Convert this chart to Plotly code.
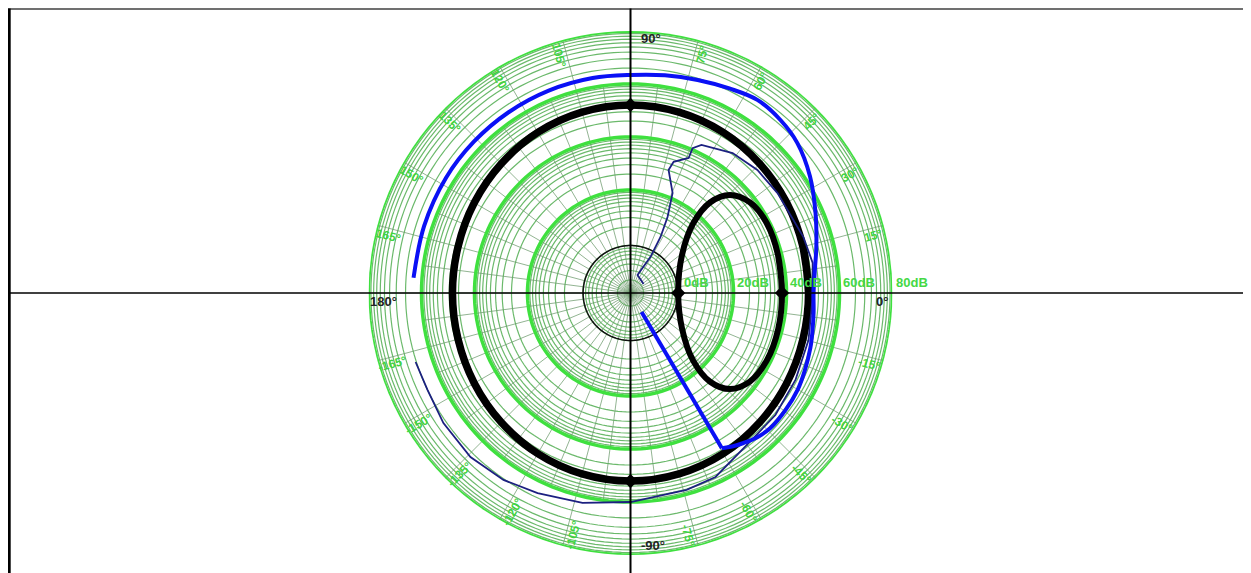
import numpy as np
import plotly.graph_objects as go

# ---------------- chart data (phase in degrees, magnitude in dB) ----------------
R_MIN, R_MAX = -18.9, 80.0          # radial dB range of the log-polar chart

# thick black loop (closed, first points repeated to close the spline smoothly)
big_theta = [0, 15, 30, 45, 60, 75, 90, 105, 120, 135, 150, 165, 180,
             195, 210, 225, 240, 255, 270, 285, 300, 315, 330, 345, 360, 375]
big_db = [48.3, 48.5, 49.2, 50.1, 51.1, 51.8, 52.1, 51.8, 51.1, 50.1, 49.2, 48.5, 48.3,
          48.5, 49.2, 50.1, 51.1, 51.8, 52.1, 51.8, 51.1, 50.1, 49.2, 48.5, 48.3, 48.5]

# black oval loop to the right of the centre
ell_theta = [0.4, 14.5, 27.1, 37.2, 44.6, 48.7, 48.0, 36.5, 1.2, -35.0, -47.2, -48.1,
             -44.0, -36.6, -26.4, -13.8, 0.4, 14.5]
ell_db = [38.3, 38.6, 38.9, 37.7, 33.8, 26.6, 16.5, 5.3, -0.9, 4.9, 15.9, 26.1,
          33.3, 37.2, 38.5, 38.5, 38.3, 38.6]

# thick blue curve
blue_theta = [176, 162, 148, 136, 124, 112, 100, 90, 81, 72.5, 64, 56.7, 49, 42, 33, 23.4,
              14, 7, 0, -6, -12, -17, -24, -30, -37, -44, -49, -53, -56.5, -59.5]
blue_db = [63.2, 63.0, 63.2, 63.3, 63.4, 63.5, 63.5, 63.4, 64.3, 65.4, 66.9, 68.3, 67.5,
           65.8, 61.9, 57.2, 53.4, 51.2, 50.2, 50.6, 51.3, 52.1, 53.1, 54.0, 54.4, 54.5,
           53.5, 52.0, 50.6, 49.1]
blue_tail_theta = [-59.5, -59.8]
blue_tail_db = [49.1, -10.6]

# thin navy measured curve
navy_theta = [34.7, 68.7, 61, 61.8, 64, 67.2, 72.8, 71.8, 66.7, 66.8, 64.4, 53.9, 44.1,
              34.2, 17.9, 9.4, -2.2, -14.8, -27.8, -40.1, -51.8, -65.2, -74.1, -90,
              -102.9, -114.9, -124.2, -134.3, -145.2, -154.5, -162.2]
navy_db = [-12.9, -11.6, -3.3, 5.1, 13.0, 22.1, 29.7, 33.2, 36.6, 40.6, 43.1, 46.5, 47.8,
           48.2, 49.7, 50.8, 49.8, 50.6, 51.5, 52.6, 53.2, 57.6, 58.4, 60.0,
           62.4, 64.4, 66.4, 67.6, 67.1, 66.0, 66.3]

# crossing markers
mark_theta = [0, 0, 90, -90]
mark_db = [-0.9, 38.3, 52.1, 52.1]

# reference (0 dB) circle drawn thin black
UNIT_DB = -1.0

# grid definition
decade_starts = [-20, 0, 20, 40, 60]
major_rings = [20, 40, 60, 80]
db_label_vals = [0, 20, 40, 60, 80]
db_labels = ["0dB", "20dB", "40dB", "60dB", "80dB"]
angle_ticks = [15, 30, 45, 60, 75, 105, 120, 135, 150, 165,
               -15, -30, -45, -60, -75, -105, -120, -135, -150, -165]
axis_label_text = ["90°", "-90°", "0°", "180°"]
axis_label_theta = [90, -90, 0, 180]
axis_label_db = [77.0, 76.6, 76.0, 74.2]

# ---------------- geometry of the page (page body has an 8px margin) ----------------
OFF = 8
W, H = 1251 - OFF, 573 - OFF
CX, CY, RPX = 630.5 - OFF, 293.0 - OFF, 262.0
dom_x = [(CX - RPX) / W, (CX + RPX) / W]
dom_y = [(H - CY - RPX) / H, (H - CY + RPX) / H]


def to_xy(theta, db):
    rn = (db - R_MIN) / (R_MAX - R_MIN)
    t = np.deg2rad(theta)
    return rn * np.cos(t), rn * np.sin(t)


fig = go.Figure()
# dummy cartesian trace so that overlay axes exist for the rotated labels
fig.add_trace(go.Scatter(x=[], y=[], showlegend=False, hoverinfo="skip"))

circ = np.arange(0, 361, 2.0)

# thin log rings
th, rr = [], []
for d0 in decade_starts:
    for m in range(2, 10):
        v = d0 + 20 * np.log10(m)
        if v <= R_MIN:
            continue
        th += list(circ) + [None]
        rr += [v] * len(circ) + [None]
fig.add_trace(go.Scatterpolar(theta=th, r=rr, mode="lines",
                              line=dict(color="rgba(65,165,65,0.78)", width=1.2),
                              hoverinfo="skip", showlegend=False))

# spokes
th, rr = [], []
for a in np.arange(0, 360, 15):
    th += [a, a, None]
    rr += [R_MIN, R_MAX, None]
for a in np.arange(7.5, 360, 15):
    th += [a, a, None]
    rr += [R_MIN, 60, None]
fig.add_trace(go.Scatterpolar(theta=th, r=rr, mode="lines",
                              line=dict(color="rgba(110,155,110,0.75)", width=1),
                              hoverinfo="skip", showlegend=False))

# thick decade rings
th, rr = [], []
for v in major_rings:
    th += list(circ) + [None]
    rr += [v] * len(circ) + [None]
fig.add_trace(go.Scatterpolar(theta=th, r=rr, mode="lines",
                              line=dict(color="#3fe03f", width=3.5),
                              hoverinfo="skip", showlegend=False))

# 0 dB reference circle
fig.add_trace(go.Scatterpolar(theta=list(circ), r=[UNIT_DB] * len(circ), mode="lines",
                              line=dict(color="#111111", width=1.5),
                              hoverinfo="skip", showlegend=False))

# data curves
fig.add_trace(go.Scatterpolar(theta=big_theta, r=big_db, mode="lines",
                              line=dict(color="#000000", width=7.5, shape="spline"),
                              showlegend=False))
fig.add_trace(go.Scatterpolar(theta=ell_theta, r=ell_db, mode="lines",
                              line=dict(color="#000000", width=6, shape="spline"),
                              showlegend=False))
fig.add_trace(go.Scatterpolar(theta=navy_theta, r=navy_db, mode="lines",
                              line=dict(color="#1c2080", width=1.8),
                              showlegend=False))
fig.add_trace(go.Scatterpolar(theta=blue_theta, r=blue_db, mode="lines",
                              line=dict(color="#0a10f5", width=4, shape="spline"),
                              showlegend=False))
fig.add_trace(go.Scatterpolar(theta=blue_tail_theta, r=blue_tail_db, mode="lines",
                              line=dict(color="#0a10f5", width=4),
                              showlegend=False))
fig.add_trace(go.Scatterpolar(theta=mark_theta, r=mark_db, mode="markers",
                              marker=dict(symbol="diamond", size=11, color="#000000"),
                              showlegend=False))

annotations = []
# dB labels along 0 deg
for v, t in zip(db_label_vals, db_labels):
    x, y = to_xy(0, v)
    annotations.append(dict(x=x, y=y, xref="x", yref="y", text="<b>%s</b>" % t,
                            showarrow=False, xanchor="left", yanchor="bottom",
                            xshift=1, yshift=1,
                            font=dict(family="Liberation Sans, Arial", size=13,
                                      color="#45d845")))
# rotated angle labels
LAB_DB = 75.0
for a in angle_ticks:
    if abs(a) < 90:
        pos = a - 1.7
        ang = -a
    else:
        pos = a + 1.7
        ang = 180 - a
        if ang > 180:
            ang -= 360
    x, y = to_xy(pos, LAB_DB)
    annotations.append(dict(x=x, y=y, xref="x", yref="y", text="<b>%d°</b>" % a,
                            showarrow=False, textangle=ang,
                            font=dict(family="Liberation Sans, Arial", size=12,
                                      color="#40d440")))
# black axis labels
for t, a, v in zip(axis_label_text, axis_label_theta, axis_label_db):
    x, y = to_xy(a, v)
    if a in (90, -90):
        annotations.append(dict(x=x, y=y, xref="x", yref="y", text="<b>%s</b>" % t,
                                showarrow=False, xanchor="left", xshift=8,
                                font=dict(family="Liberation Sans, Arial", size=13,
                                          color="#222222")))
    else:
        annotations.append(dict(x=x, y=y, xref="x", yref="y", text="<b>%s</b>" % t,
                                showarrow=False, yshift=-8,
                                font=dict(family="Liberation Sans, Arial", size=13,
                                          color="#222222")))

cx_p = CX / W
cy_p = (H - CY) / H
shapes = [
    dict(type="line", xref="paper", yref="paper", x0=0, x1=1, y0=(H - 1) / H,
         y1=(H - 1) / H, line=dict(color="#707070", width=2)),
    dict(type="line", xref="paper", yref="paper", x0=1.2 / W, x1=1.2 / W, y0=0,
         y1=(H - 0.5) / H, line=dict(color="#000000", width=3)),
    dict(type="line", xref="paper", yref="paper", x0=0, x1=1, y0=cy_p, y1=cy_p,
         line=dict(color="#000000", width=1.5)),
    dict(type="line", xref="paper", yref="paper", x0=cx_p, x1=cx_p, y0=0,
         y1=(H - 0.5) / H, line=dict(color="#000000", width=2)),
]

fig.update_layout(
    width=W, height=H, autosize=False,
    margin=dict(l=0, r=0, t=0, b=0),
    paper_bgcolor="white", plot_bgcolor="white",
    showlegend=False,
    polar=dict(
        domain=dict(x=dom_x, y=dom_y),
        bgcolor="white",
        radialaxis=dict(range=[R_MIN, R_MAX], showgrid=False, showline=False,
                        showticklabels=False, ticks=""),
        angularaxis=dict(rotation=0, direction="counterclockwise", showgrid=False,
                         showline=False, showticklabels=False, ticks=""),
    ),
    xaxis=dict(domain=dom_x, range=[-1, 1], visible=False, fixedrange=True),
    yaxis=dict(domain=dom_y, range=[-1, 1], visible=False, fixedrange=True),
    annotations=annotations,
    shapes=shapes,
)

fig.write_html("out.html", config={"displayModeBar": False})
